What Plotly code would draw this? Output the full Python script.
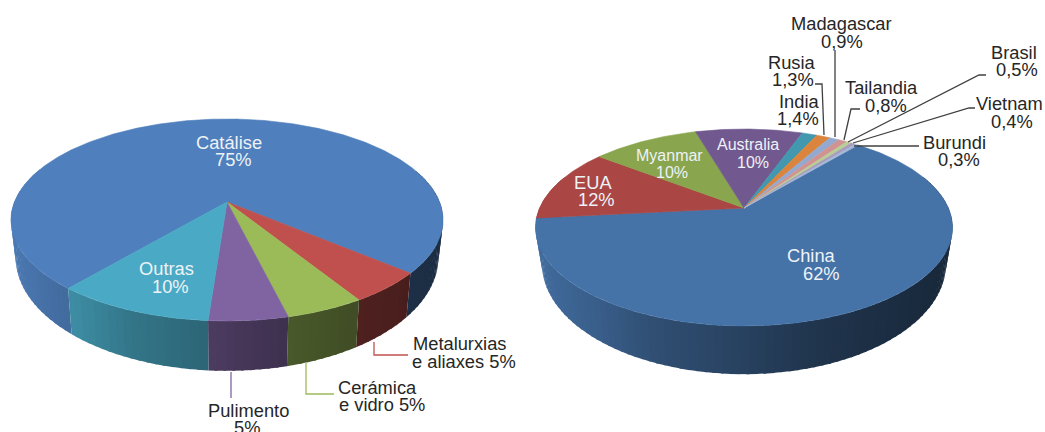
import numpy as np
import plotly.graph_objects as go

# ---- data ----
uses = ["Catálise", "Metalurxias e aliaxes", "Cerámica e vidro", "Pulimento", "Outras"]
use_share = [75, 5, 5, 5, 10]
use_colors = ["#4f7fbc", "#c0504d", "#9bbb59", "#8064a2", "#4aaac5"]

countries = ["China", "EUA", "Myanmar", "Australia", "India", "Rusia", "Madagascar",
             "Tailandia", "Brasil", "Vietnam", "Burundi"]
country_share = [62, 12, 10, 10, 1.4, 1.3, 0.9, 0.8, 0.5, 0.4, 0.3]
country_colors = ["#4572a7", "#aa4643", "#89a54e", "#71588f", "#4198af", "#db843d",
                  "#93a9cf", "#d19392", "#b9cd96", "#a99bbd", "#a3b8d8"]

# ---- pie geometry (perspective projection of a disc) ----
LEFT = dict(ax=227, ay=202, A=212.6, B=97.8, k=0.178, A2=208, B2=110, ay2=237, start=220.2)
RIGHT = dict(ax=744, ay=208, A=204.4, B=94.6, k=0.198, A2=198, B2=106, ay2=242, start=40.0)

SHADE_U = [-1, -0.7, -0.44, -0.1, 0.3, 0.6, 1]
SHADE_V = [0.95, 0.82, 0.69, 0.60, 0.47, 0.41, 0.35]


def rim(t, g, bottom=False):
    r = np.radians(t)
    X, Y = np.sin(r), np.cos(r)
    den = 1 + g["k"] * Y
    if bottom:
        return g["ax"] + g["A2"] * X / den, g["ay2"] - g["B2"] * Y / den
    return g["ax"] + g["A"] * X / den, g["ay"] - g["B"] * Y / den


def shade(hex_color, f):
    rgb = [int(hex_color[i:i + 2], 16) for i in (1, 3, 5)]
    return "rgb({},{},{})".format(*[int(round(c * f)) for c in rgb])


def poly(fig, xs, ys, color, lw=0.6):
    fig.add_trace(go.Scatter(x=xs, y=ys, mode="lines", fill="toself", fillcolor=color,
                             line=dict(color=color, width=lw), hoverinfo="skip",
                             showlegend=False))


def draw_pie(fig, values, colors, g):
    total = sum(values)
    edges = g["start"] + 360 * np.cumsum([0] + list(values)) / total
    # side wall
    step = 2.0
    rx = g["A"] / np.sqrt(1 - g["k"] ** 2)
    for i, c in enumerate(colors):
        a0, a1 = edges[i], edges[i + 1]
        n = max(1, int(np.ceil((a1 - a0) / step)))
        ts = np.linspace(a0, a1, n + 1)
        for t0, t1 in zip(ts[:-1], ts[1:]):
            tm = (t0 + t1) / 2
            if np.cos(np.radians(tm)) > 0.35:
                continue
            # strips overlap the next one slightly, hiding seams
            x0, y0 = rim(t0, g)
            x1, y1 = rim(t1 + (0.6 if t1 < a1 else 0), g)
            x2, y2 = rim(t1 + (0.6 if t1 < a1 else 0), g, True)
            x3, y3 = rim(t0, g, True)
            u = (np.mean([x0, x1, x2, x3]) - g["ax"]) / rx
            poly(fig, [x0, x1, x2, x3, x0], [y0, y1, y2, y3, y0],
                 shade(c, float(np.interp(u, SHADE_U, SHADE_V))), lw=0)
    # top face
    for i, c in enumerate(colors):
        ts = np.linspace(edges[i], edges[i + 1], max(3, int((edges[i + 1] - edges[i]) * 2)))
        px, py = rim(ts, g)
        poly(fig, [g["ax"], *px, g["ax"]], [g["ay"], *py, g["ay"]], c)


fig = go.Figure()
draw_pie(fig, use_share, use_colors, LEFT)
draw_pie(fig, country_share, country_colors, RIGHT)

# ---- leader lines ----
GREY = "#404040"
leaders = [
    ([374, 374, 408], [342, 355, 355], "#c0504d"),
    ([306, 306, 334], [363, 394, 394], "#9bbb59"),
    ([231, 231], [372, 398], "#8064a2"),
    ([815, 822, 824], [84, 84, 135], GREY),
    ([835, 835], [50, 137], GREY),
    ([860, 851, 844], [109, 109, 140], GREY),
    ([986, 979, 848], [75, 75, 142], GREY),
    ([975, 969, 853], [108, 108, 143], GREY),
    ([919, 854], [146, 146], GREY),
]
for lx, ly, lc in leaders:
    fig.add_trace(go.Scatter(x=lx, y=ly, mode="lines", line=dict(color=lc, width=1.3),
                             hoverinfo="skip", showlegend=False))

# ---- labels: text, x, y, size, colour ----
WHITE = "#eef2f7"
DARK = "#262626"
F = 18.3
labels = [
    ("Catálise", 228.5, 142, F, WHITE), ("75%", 233.5, 159, F, WHITE),
    ("Outras", 166.5, 268, F, WHITE), ("10%", 170.5, 286, F, WHITE),
    ("Metalurxias", 459, 343, F, DARK), ("e aliaxes 5%", 464, 361, F, DARK),
    ("Cerámica", 377, 387, F, DARK), ("e vidro 5%", 381.5, 404, F, DARK),
    ("Pulimento", 248.5, 410, F, DARK), ("5%", 246.5, 427, F, DARK),
    ("Madagascar", 841, 23, F, DARK), ("0,9%", 842, 41, F, DARK),
    ("Rusia", 792, 62, F, DARK), ("1,3%", 792.5, 79, F, DARK),
    ("India", 798.5, 101, F, DARK), ("1,4%", 797.5, 118, F, DARK),
    ("Tailandia", 881, 87, F, DARK), ("0,8%", 885.5, 105, F, DARK),
    ("Brasil", 1014, 52, F, DARK), ("0,5%", 1016.5, 69, F, DARK),
    ("Vietnam", 1009, 103, F, DARK), ("0,4%", 1012, 121, F, DARK),
    ("Burundi", 954.5, 142, F, DARK), ("0,3%", 958.5, 159, F, DARK),
    ("EUA", 593, 182, F, WHITE), ("12%", 596, 199, F, WHITE),
    ("Myanmar", 669, 155, 16, WHITE), ("10%", 672, 172, 16, WHITE),
    ("Australia", 747.5, 144, 16, WHITE), ("10%", 753, 162, 16, WHITE),
    ("China", 811.5, 255, F, WHITE), ("62%", 821, 273, F, WHITE),
]
for txt, x, y, size, col in labels:
    fig.add_annotation(x=x, y=y, text=txt, showarrow=False, xanchor="center", yanchor="middle",
                       font=dict(family="Liberation Sans", size=size, color=col))

fig.update_layout(
    width=1045, height=432, margin=dict(l=0, r=0, t=0, b=0),
    paper_bgcolor="white", plot_bgcolor="white", showlegend=False,
    xaxis=dict(range=[0, 1045], visible=False, fixedrange=True),
    yaxis=dict(range=[432, 0], visible=False, fixedrange=True),
)
fig.write_html("out.html", config={"displayModeBar": False},
               post_script="document.body.style.margin='0';document.body.style.overflow='hidden';")
